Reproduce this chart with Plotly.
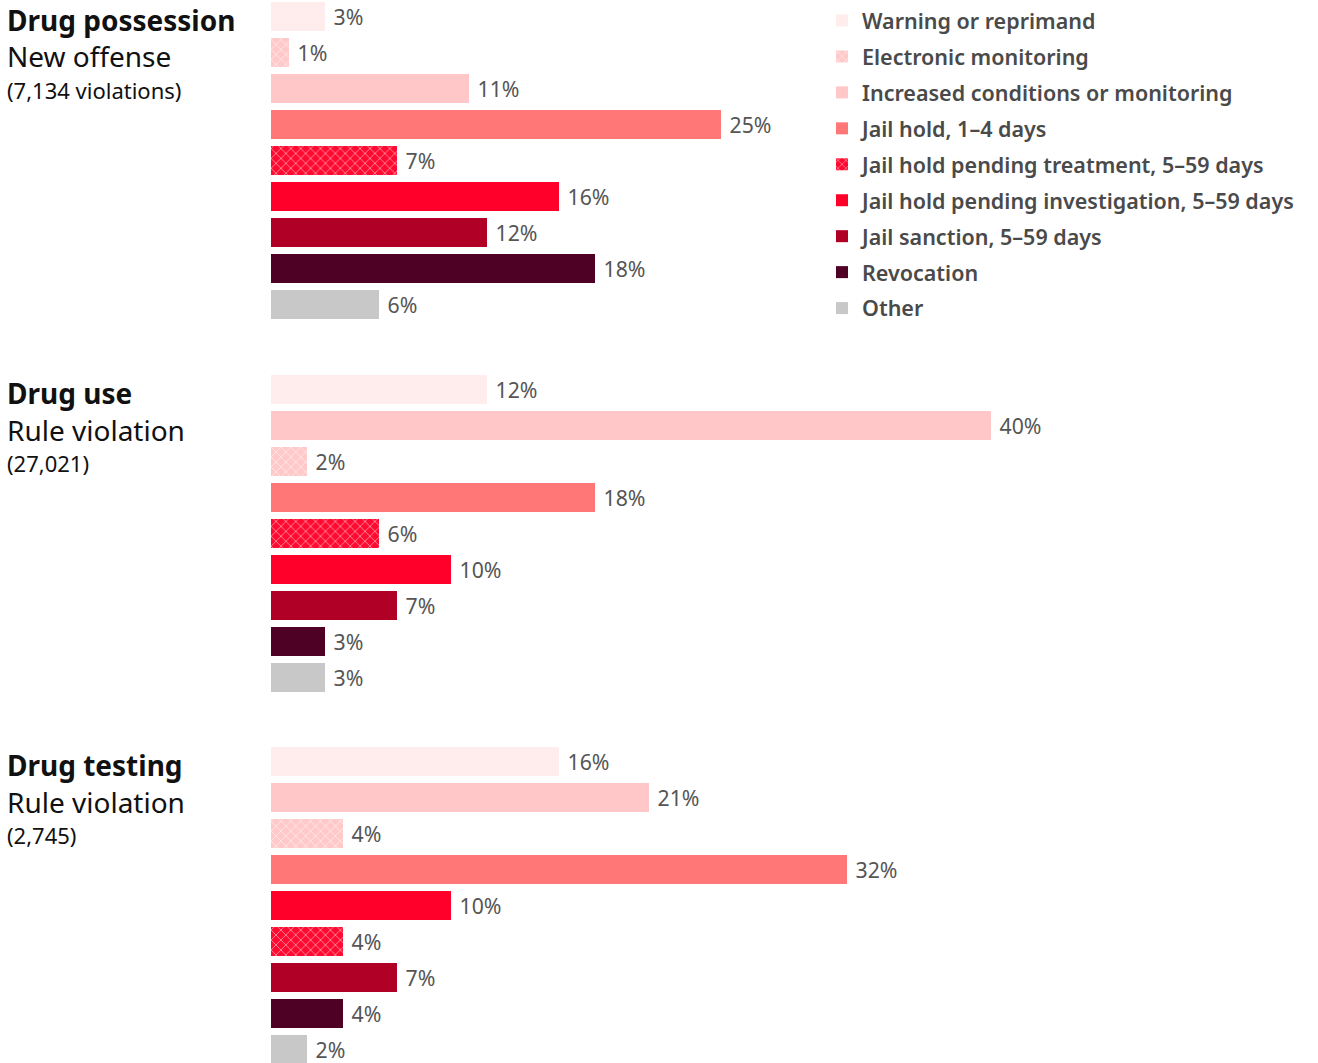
import plotly.graph_objects as go

W, H = 1318, 1063

categories = [
    "Warning or reprimand",
    "Electronic monitoring",
    "Increased conditions or monitoring",
    "Jail hold, 1–4 days",
    "Jail hold pending treatment, 5–59 days",
    "Jail hold pending investigation, 5–59 days",
    "Jail sanction, 5–59 days",
    "Revocation",
    "Other",
]
colors = ["#FFEDED", "#FFC9C9", "#FFC7C7", "#FF7777", "#FF0A30",
          "#FF002B", "#B00026", "#4F0025", "#C8C8C8"]
hatched = [False, True, False, False, True, False, False, False, False]

group_titles = ["Drug possession", "Drug use", "Drug testing"]
group_subtitles = ["New offense", "Rule violation", "Rule violation"]
group_counts = ["(7,134 violations)", "(27,021)", "(2,745)"]

# order of bars (top to bottom) and values in each group
group1_order = [0, 1, 2, 3, 4, 5, 6, 7, 8]
group1_values = [3, 1, 11, 25, 7, 16, 12, 18, 6]
group2_order = [0, 2, 1, 3, 4, 5, 6, 7, 8]
group2_values = [12, 40, 2, 18, 6, 10, 7, 3, 3]
group3_order = [0, 2, 1, 3, 5, 4, 6, 7, 8]
group3_values = [16, 21, 4, 32, 10, 4, 7, 4, 2]

orders = [group1_order, group2_order, group3_order]
values = [group1_values, group2_values, group3_values]

# layout geometry (pixels)
first_center = [16.5, 389.5, 761.5]
row_step = 36
dom_px = [(0, 323), (368, 700), (742, 1063)]
x_left = 271
px_per_pct = 18

fig = go.Figure()

for g in range(3):
    ax = "" if g == 0 else str(g + 1)
    cats_in_order = [categories[i] for i in orders[g]]
    for pos, (ci, v) in enumerate(zip(orders[g], values[g])):
        pattern = dict(shape="x", fgcolor="white", bgcolor=colors[ci],
                       fillmode="overlay", size=7, solidity=0.25) if hatched[ci] else dict(shape="")
        fig.add_trace(go.Bar(
            x=[v], y=[categories[ci]], orientation="h",
            name=categories[ci], legendgroup=categories[ci],
            showlegend=(g == 0),
            marker=dict(color=colors[ci], line=dict(width=0), pattern=pattern),
            width=0.81,
            text=[f"\u00a0{v}%"], textposition="outside", cliponaxis=False,
            textfont=dict(size=22, color="#555555", family="Noto Sans"),
            xaxis="x" + ax, yaxis="y" + ax,
            hoverinfo="x+name",
        ))
    top, bot = dom_px[g]
    r_top = (top - first_center[g]) / row_step
    r_bot = (bot - first_center[g]) / row_step
    fig.layout["yaxis" + ax] = dict(
        domain=[1 - bot / H, 1 - top / H],
        type="category", categoryorder="array", categoryarray=cats_in_order,
        range=[r_bot, r_top], showticklabels=False, showgrid=False,
        zeroline=False, showline=False, anchor="x" + ax, fixedrange=True,
    )
    fig.layout["xaxis" + ax] = dict(
        domain=[x_left / W, 1], range=[0, (W - x_left) / px_per_pct],
        visible=False, anchor="y" + ax, fixedrange=True,
    )
    # group headers
    c = first_center[g]
    fig.add_annotation(text=f"<b>{group_titles[g]}</b>", x=5 / W, y=1 - (c + 3) / H,
                       xref="paper", yref="paper", xanchor="left", yanchor="middle",
                       showarrow=False, font=dict(size=28, color="#111111", family="Noto Sans"))
    fig.add_annotation(text=group_subtitles[g], x=5 / W, y=1 - (c + 40) / H,
                       xref="paper", yref="paper", xanchor="left", yanchor="middle",
                       showarrow=False, font=dict(size=28, color="#111111", family="Noto Sans"))
    fig.add_annotation(text=group_counts[g], x=5 / W, y=1 - (c + 73) / H,
                       xref="paper", yref="paper", xanchor="left", yanchor="middle",
                       showarrow=False, font=dict(size=22, color="#111111", family="Noto Sans"))

fig.update_layout(
    width=W, height=H, margin=dict(l=0, r=0, t=0, b=0),
    paper_bgcolor="white", plot_bgcolor="white",
    barmode="overlay", bargap=0,
    showlegend=True,
    legend=dict(x=822 / W, y=1, xanchor="left", yanchor="top",
                font=dict(size=21.5, color="#4A4A4A", family="Noto Sans", weight=600),
                tracegroupgap=5, bgcolor="rgba(0,0,0,0)", itemclick=False,
                itemdoubleclick=False),
)

fig.write_html("out.html", config={"displayModeBar": False},
               post_script="document.body.style.margin='0';document.body.style.overflow='hidden';")
